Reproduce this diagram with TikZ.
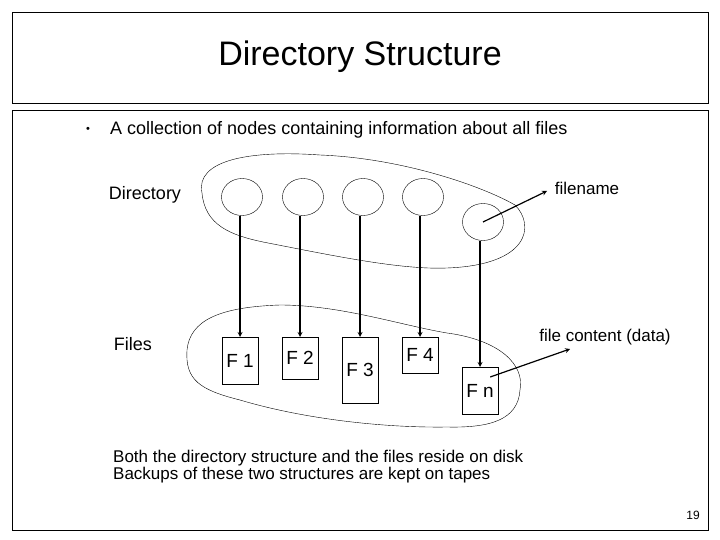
\documentclass[tikz,border=0pt]{standalone}
\usepackage{fontspec}
\setmainfont{Liberation Sans}
\usetikzlibrary{positioning, arrows, shapes.geometric}
\begin{document}
\begin{tikzpicture}[x=1pt, y=-1pt, >=stealth,
    dirnode/.style={ellipse, draw, minimum width=41pt, minimum height=37pt, inner sep=0pt},
    filebox/.style={rectangle, draw, minimum width=36pt, inner sep=0pt, font=\fontsize{19}{20}\selectfont},
    link/.style={->, line width=1.2pt}]
            \useasboundingbox (0,0) rectangle (720,540);
            % Frames
            \draw (12,12) rectangle (708,103);
            \draw (12,110) rectangle (708,530);
            \node (title) at (360,57) {\fontsize{34}{38}\selectfont Directory Structure};
            \node (bullet) at (88,130) {\fontsize{11}{12}\selectfont \textbullet};
            \node (intro) [anchor=west, inner sep=0pt] at (110,130) {\fontsize{18}{20}\selectfont A collection of nodes containing information about all files};

            % Blobs
            \draw (202,193) .. controls (195,160) and (250,150) .. (320,155)
                  .. controls (400,158) and (480,185) .. (515,205)
                  .. controls (535,225) and (530,265) .. (447,268)
                  .. controls (400,270) and (330,255) .. (263,242)
                  .. controls (230,235) and (205,225) .. (202,193);
            \draw (187,350) .. controls (190,320) and (220,307) .. (280,305)
                  .. controls (340,305) and (400,325) .. (447,333)
                  .. controls (500,340) and (525,365) .. (520,390)
                  .. controls (518,420) and (490,428) .. (447,427)
                  .. controls (380,428) and (300,418) .. (240,400)
                  .. controls (200,390) and (185,380) .. (187,350);

            % Nodes
            \node (d1) [dirnode] at (242,197) {};
            \node (d2) [dirnode] at (303,197) {};
            \node (d3) [dirnode] at (363,197) {};
            \node (d4) [dirnode] at (423,197) {};
            \node (d5) [dirnode] at (483,222) {};
            \node (f1) [filebox, minimum height=47pt, anchor=north] at (240,337) {F 1};
            \node (f2) [filebox, minimum height=42pt, anchor=north] at (300,337) {F 2};
            \node (f3) [filebox, minimum height=66pt, anchor=north] at (360,337) {F 3};
            \node (f4) [filebox, minimum height=36pt, anchor=north] at (420,337) {F 4};
            \node (fn) [filebox, minimum height=47pt, anchor=north] at (480,367) {F n};

            \node (dirlabel) at (145,195) {\fontsize{18}{20}\selectfont Directory};
            \node (fileslabel) at (133,344) {\fontsize{18}{20}\selectfont Files};
            \node (namelabel) at (587,188) {\fontsize{17}{20}\selectfont filename};
            \node (datalabel) at (605,337) {\fontsize{17}{20}\selectfont file content (data)};
            \coordinate (nametip) at (547,191);
            \coordinate (datatip) at (570,349);

            % Arrows
            \draw[link] (d1.south -| f1.north) -- (f1.north);
            \draw[link] (d2.south -| f2.north) -- (f2.north);
            \draw[link] (d3.south -| f3.north) -- (f3.north);
            \draw[link] (d4.south -| f4.north) -- (f4.north);
            \draw[link] (d5.south -| fn.north) -- (fn.north);
            \draw[link] (d5.center) -- (nametip);
            \draw[link] ([xshift=-8pt,yshift=-10pt]fn.north east) -- (datatip);

            % Note
            \node (note) [anchor=north west, align=left, inner sep=0pt] at (113,450) {\fontsize{17}{21}\selectfont Both the directory structure and the files reside on disk\\ \fontsize{17}{21}\selectfont Backups of these two structures are kept on tapes};
            \node (page) at (693,515) {\fontsize{12}{14}\selectfont 19};
\end{tikzpicture}
\end{document}
